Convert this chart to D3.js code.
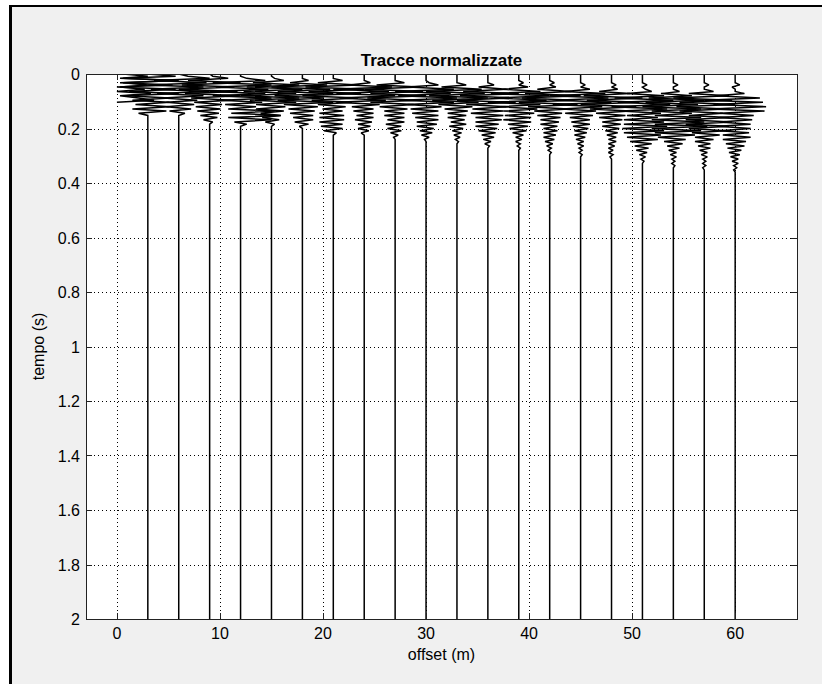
<!DOCTYPE html>
<html lang="it">
<head>
<meta charset="UTF-8">
<title>Tracce normalizzate</title>
<script src="https://d3js.org/d3.v7.min.js"></script>
<style>
  body { margin: 0; background: #fff; }
  text { font-family: "Liberation Sans", Arial, sans-serif; }
</style>
</head>
<body>
<div id="chart"></div>
<script>
// trace offsets (m) and sample interval (s)
var offsets = [0, 3, 6, 9, 12, 15, 18, 21, 24, 27, 30, 33, 36, 39, 42, 45, 48, 51, 54, 57, 60];
var dt = 0.008;

// normalized amplitudes, one row per trace, sampled every dt from t = 0
var traceAmps = [
  [0.2, 1.0, 0.1, 1.9, 0.2, 1.0, 0.1, 0.9, 0.0, 1.1, 0.1, 0.7, 1.2, 0.0],
  [0.0, 0.9, -0.8, 1.0, -0.9, 0.8, -1.0, 0.9, -0.6, 1.0, -0.7, 0.7, -0.5, 0.7, -0.4, 0.7, -0.5, 0.6, -0.3, 0.0],
  [0.0, 0.3, 1.0, -0.8, 0.9, -1.0, 0.8, -0.9, 1.0, -0.7, 0.8, -0.5, 0.6, -0.4, 0.5, -0.4, 0.4, -0.3, 0.2, 0.0],
  [0.0, 0.1, 0.6, -0.7, 1.0, -0.9, 0.8, -1.0, 0.9, -0.8, 1.0, -0.6, 0.7, -0.5, 0.4, -0.45, 0.35, -0.4, 0.3, -0.3, 0.25, -0.2, 0.1, 0.0],
  [0.0, 0.0, 0.2, 0.8, -0.9, 1.0, -0.8, 0.9, -1.0, 0.8, -0.9, 1.0, -0.6, 0.7, -0.5, 0.5, -0.4, 1.1, -0.3, 1.3, -0.4, 1.0, -0.2, 0.2, 0.0],
  [0.0, 0.0, 0.1, 0.4, -0.6, 0.9, -0.8, 1.0, -0.9, 0.8, -1.0, 0.9, -0.7, 0.8, -0.5, 0.45, -0.5, 0.4, -0.35, 0.3, -0.3, 0.25, -0.2, 0.1, 0.0],
  [0.0, 0.0, 0.0, 0.2, -0.4, 0.8, -1.0, 0.9, -0.8, 1.0, -0.9, 0.7, -0.8, 1.0, -0.6, 0.5, -0.45, 0.4, -0.4, 0.35, -0.3, 0.35, -0.25, 0.2, -0.1, 0.0],
  [0.0, 0.0, 0.0, 0.3, -0.5, 0.8, -0.9, 1.0, -0.8, 0.9, -1.0, 0.8, -0.7, 0.6, -0.5, 0.4, -0.35, 0.3, -0.45, 0.35, -0.45, 0.35, -0.45, 0.3, -0.4, 0.3, -0.3, 0.1, 0.0],
  [0.0, 0.0, 0.0, 0.0, 0.2, -0.5, 0.9, -1.0, 0.8, -0.9, 1.0, -0.8, 0.7, -0.9, 0.5, -0.4, 0.3, -0.35, 0.3, -0.25, 0.3, -0.3, 0.25, -0.2, 0.2, -0.2, 0.15, -0.1, 0.0],
  [0.0, 0.0, 0.0, 0.0, 0.3, -0.6, 0.8, -1.0, 0.9, -0.8, 1.0, -0.9, 0.7, -0.8, 0.6, -0.5, 0.4, -0.35, 0.3, -0.35, 0.3, -0.25, 0.3, -0.3, 0.2, -0.25, 0.2, -0.15, 0.1, -0.05, 0.0],
  [0.0, 0.0, 0.0, 0.0, 0.1, 0.4, -0.6, 0.9, -1.0, 0.8, -0.9, 1.0, -0.8, 0.9, -0.6, 0.5, -0.5, 0.4, -0.45, 0.4, -0.35, 0.4, -0.3, 0.35, -0.3, 0.25, -0.2, 0.2, -0.15, 0.1, -0.05, 0.0],
  [0.0, 0.0, 0.0, 0.0, 0.0, 0.3, -0.5, 0.8, -1.0, 0.9, -0.9, 1.0, -0.8, 0.7, -0.6, 0.5, -0.4, 0.35, -0.3, 0.3, -0.3, 0.25, -0.2, 0.3, -0.25, 0.2, -0.15, 0.15, -0.1, 0.1, -0.05, 0.05, 0.0],
  [0.0, 0.0, 0.0, 0.0, 0.0, 0.2, -0.3, 0.6, -0.8, 1.0, -0.9, 0.8, -1.0, 0.9, -0.7, 0.6, -0.5, 0.5, -0.55, 0.5, -0.4, 0.45, -0.4, 0.35, -0.4, 0.3, -0.3, 0.25, -0.2, 0.2, -0.15, 0.1, -0.1, 0.05, 0.0],
  [0.0, 0.0, 0.0, 0.0, 0.15, 0.0, 0.3, -0.5, 0.7, -0.9, 1.0, -0.8, 0.9, -1.0, 0.7, -0.6, 0.6, -0.5, 0.5, -0.45, 0.4, -0.5, 0.4, -0.35, 0.3, -0.3, 0.25, -0.2, 0.15, -0.1, 0.1, -0.1, 0.05, -0.05, 0.05, 0.0],
  [0.0, 0.0, 0.0, 0.0, 0.15, 0.0, 0.2, -0.4, 0.7, -0.8, 1.0, -0.9, 0.8, -1.0, 0.9, -0.7, 0.6, -0.5, 0.4, -0.4, 0.35, -0.3, 0.3, -0.3, 0.25, -0.2, 0.25, -0.2, 0.2, -0.2, 0.15, -0.15, 0.1, -0.1, 0.05, -0.05, 0.05, 0.0],
  [0.0, 0.0, 0.0, 0.0, 0.0, 0.15, 0.0, 0.3, -0.5, 0.8, -1.0, 0.9, -0.8, 1.0, -0.9, 0.7, -0.6, 0.5, -0.5, 0.4, -0.35, 0.3, -0.3, 0.3, -0.25, 0.25, -0.2, 0.2, -0.2, 0.15, -0.15, 0.1, -0.1, 0.1, -0.05, 0.05, -0.05, 0.05, 0.0],
  [0.0, 0.0, 0.0, 0.0, 0.0, 0.15, 0.0, 0.2, -0.4, 0.6, -0.9, 1.0, -0.8, 0.9, -1.0, 0.8, -0.7, 0.6, -0.5, 0.45, -0.4, 0.35, -0.3, 0.3, -0.3, 0.25, -0.2, 0.2, -0.15, 0.15, -0.1, 0.15, -0.1, 0.1, -0.1, 0.05, -0.1, 0.05, -0.05, 0.0],
  [0.0, 0.0, 0.0, 0.0, 0.0, 0.15, 0.0, 0.1, 0.3, -0.5, 0.7, -0.9, 1.0, -0.8, 0.9, -1.0, 0.8, -0.7, 0.6, -0.5, 0.5, -0.6, 0.7, -0.6, 0.8, -0.65, 0.7, -0.6, 0.6, -0.5, 0.5, -0.4, 0.3, -0.25, 0.2, -0.2, 0.15, -0.1, 0.1, -0.05, 0.05, 0.0],
  [0.0, 0.0, 0.0, 0.0, 0.0, 0.15, 0.0, 0.0, 0.2, -0.4, 0.6, -0.8, 1.0, -0.9, 0.8, -1.0, 0.9, -0.7, 0.6, -0.6, 0.9, -0.7, 1.0, -0.6, 1.1, -0.7, 0.9, -0.6, 0.7, -0.5, 0.4, -0.3, 0.3, -0.2, 0.2, -0.15, 0.1, -0.1, 0.1, -0.05, 0.05, -0.05, 0.05, 0.0],
  [0.0, 0.0, 0.0, 0.0, 0.0, 0.15, 0.0, 0.0, 0.3, -0.5, 0.8, -1.0, 0.9, -0.8, 1.0, -0.9, 0.7, -0.8, 0.6, -0.5, 0.8, -0.6, 0.9, -0.6, 0.8, -0.5, 0.7, -0.4, 0.5, -0.3, 0.3, -0.3, 0.2, -0.2, 0.2, -0.15, 0.1, -0.1, 0.1, -0.05, 0.05, -0.05, 0.05, -0.05, 0.0],
  [0.0, 0.0, 0.0, 0.0, 0.0, 0.15, -0.1, 0.0, 0.0, 0.3, -0.6, 0.8, -1.0, 0.9, -0.7, 1.0, -0.8, 0.95, -0.5, 0.6, -0.5, 0.55, -0.5, 0.5, -0.55, 0.5, -0.5, 0.45, -0.4, 0.5, -0.4, 0.35, -0.3, 0.3, -0.25, 0.2, -0.2, 0.15, -0.15, 0.1, -0.1, 0.1, -0.05, 0.05, -0.05, 0.0]
];
// record length of each trace (s); the first trace stops after its data
var traceEnd = [0.104, 2, 2, 2, 2, 2, 2, 2, 2, 2, 2, 2, 2, 2, 2, 2, 2, 2, 2, 2, 2];

var xTicks = [0, 10, 20, 30, 40, 50, 60];
var yTicks = [0, 0.2, 0.4, 0.6, 0.8, 1, 1.2, 1.4, 1.6, 1.8, 2];

var W = 822, H = 684;
var mL = 86, mR = 797, mT = 74, mB = 619;
var ampScale = 3; // metres per unit of normalized amplitude

var svg = d3.select("#chart").append("svg")
    .attr("width", W)
    .attr("height", H);

// screenshot frame
svg.append("rect").attr("x", 12).attr("y", 7).attr("width", W - 12).attr("height", H - 7).attr("fill", "#f0f0f0");
svg.append("line").attr("x1", 10.5).attr("x2", 10.5).attr("y1", 5).attr("y2", H)
    .attr("stroke", "#000").attr("stroke-width", 3);
svg.append("line").attr("x1", 9).attr("x2", W).attr("y1", 6).attr("y2", 6)
    .attr("stroke", "#000").attr("stroke-width", 2);

var x = d3.scaleLinear().domain([-3, 66]).range([mL, mR]);
var y = d3.scaleLinear().domain([0, 2]).range([mT, mB]);

svg.append("rect")
    .attr("x", mL).attr("y", mT)
    .attr("width", mR - mL).attr("height", mB - mT)
    .attr("fill", "#fff");

svg.append("clipPath").attr("id", "clip")
  .append("rect")
    .attr("x", mL).attr("y", mT)
    .attr("width", mR - mL).attr("height", mB - mT);

// dotted grid
var grid = svg.append("g").attr("stroke", "#000").attr("stroke-width", 1)
    .attr("stroke-dasharray", "1,3");
grid.selectAll(".gx").data(xTicks).enter().append("line")
    .attr("x1", function(d) { return Math.round(x(d)) + 0.5; })
    .attr("x2", function(d) { return Math.round(x(d)) + 0.5; })
    .attr("y1", mT).attr("y2", mB);
grid.selectAll(".gy").data(yTicks.slice(1, -1)).enter().append("line")
    .attr("y1", function(d) { return Math.round(y(d)) + 0.5; })
    .attr("y2", function(d) { return Math.round(y(d)) + 0.5; })
    .attr("x1", mL).attr("x2", mR);

// traces
var line = d3.line()
    .x(function(d) { return x(d[0]); })
    .y(function(d) { return y(d[1]); });

var traces = offsets.map(function(off, i) {
    var pts = traceAmps[i].map(function(a, k) { return [off + a * ampScale, k * dt]; });
    if (traceEnd[i] > pts[pts.length - 1][1]) pts.push([off, traceEnd[i]]);
    return pts;
});

svg.append("g").attr("clip-path", "url(#clip)")
  .selectAll("path").data(traces).enter().append("path")
    .attr("d", line)
    .attr("fill", "none")
    .attr("stroke", "#000")
    .attr("stroke-width", 1.5)
    .attr("stroke-linejoin", "miter")
    .attr("stroke-miterlimit", 2);

// axes box and inward ticks
var tickLen = 6;
var axes = svg.append("g").attr("stroke", "#222").attr("stroke-width", 1);
axes.append("rect")
    .attr("x", mL + 0.5).attr("y", mT + 0.5)
    .attr("width", mR - mL).attr("height", mB - mT)
    .attr("fill", "none");
xTicks.forEach(function(d) {
    var px = Math.round(x(d)) + 0.5;
    axes.append("line").attr("x1", px).attr("x2", px).attr("y1", mB).attr("y2", mB - tickLen);
    axes.append("line").attr("x1", px).attr("x2", px).attr("y1", mT).attr("y2", mT + tickLen);
});
yTicks.forEach(function(d) {
    var py = Math.round(y(d)) + 0.5;
    axes.append("line").attr("x1", mL).attr("x2", mL + tickLen).attr("y1", py).attr("y2", py);
    axes.append("line").attr("x1", mR).attr("x2", mR - tickLen).attr("y1", py).attr("y2", py);
});

// tick labels
svg.append("g").selectAll("text").data(xTicks).enter().append("text")
    .attr("x", function(d) { return x(d); })
    .attr("y", 639)
    .attr("text-anchor", "middle")
    .attr("font-size", 16)
    .attr("fill", "#000")
    .text(function(d) { return d; });
svg.append("g").selectAll("text").data(yTicks).enter().append("text")
    .attr("x", 80)
    .attr("y", function(d) { return y(d) + 6; })
    .attr("text-anchor", "end")
    .attr("font-size", 16)
    .attr("fill", "#000")
    .text(function(d) { return d; });

// labels and title
svg.append("text")
    .attr("x", (mL + mR) / 2).attr("y", 66)
    .attr("text-anchor", "middle")
    .attr("font-size", 17).attr("font-weight", "bold")
    .text("Tracce normalizzate");
svg.append("text")
    .attr("x", (mL + mR) / 2).attr("y", 660)
    .attr("text-anchor", "middle")
    .attr("font-size", 16)
    .text("offset (m)");
svg.append("text")
    .attr("transform", "translate(44," + ((mT + mB) / 2) + ") rotate(-90)")
    .attr("text-anchor", "middle")
    .attr("font-size", 16)
    .text("tempo (s)");
</script>
</body>
</html>
